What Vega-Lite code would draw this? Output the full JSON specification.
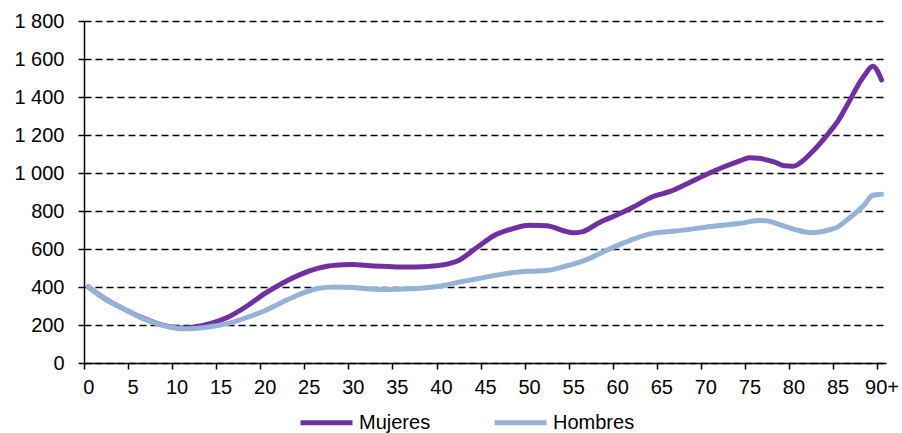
{
  "$schema": "https://vega.github.io/schema/vega-lite/v6.json",
  "width": 802,
  "height": 342,
  "autosize": {"type": "none"},
  "padding": {"left": 84, "top": 21, "right": 16, "bottom": 70},
  "background": "white",
  "config": {
    "font": "Liberation Sans",
    "view": {"stroke": null}
  },
  "data": {
    "values": [
      {"edad": 0, "sexo": "Mujeres", "valor": 400},
      {"edad": 2, "sexo": "Mujeres", "valor": 335},
      {"edad": 4, "sexo": "Mujeres", "valor": 285},
      {"edad": 6, "sexo": "Mujeres", "valor": 240},
      {"edad": 8, "sexo": "Mujeres", "valor": 205},
      {"edad": 10, "sexo": "Mujeres", "valor": 186},
      {"edad": 11, "sexo": "Mujeres", "valor": 184},
      {"edad": 12, "sexo": "Mujeres", "valor": 189},
      {"edad": 14, "sexo": "Mujeres", "valor": 210},
      {"edad": 16, "sexo": "Mujeres", "valor": 245},
      {"edad": 18, "sexo": "Mujeres", "valor": 300},
      {"edad": 20, "sexo": "Mujeres", "valor": 365},
      {"edad": 22, "sexo": "Mujeres", "valor": 420},
      {"edad": 24, "sexo": "Mujeres", "valor": 465},
      {"edad": 26, "sexo": "Mujeres", "valor": 498},
      {"edad": 28, "sexo": "Mujeres", "valor": 515},
      {"edad": 30, "sexo": "Mujeres", "valor": 518},
      {"edad": 32, "sexo": "Mujeres", "valor": 512},
      {"edad": 34, "sexo": "Mujeres", "valor": 508},
      {"edad": 36, "sexo": "Mujeres", "valor": 505},
      {"edad": 38, "sexo": "Mujeres", "valor": 507},
      {"edad": 40, "sexo": "Mujeres", "valor": 515},
      {"edad": 42, "sexo": "Mujeres", "valor": 540},
      {"edad": 44, "sexo": "Mujeres", "valor": 605},
      {"edad": 46, "sexo": "Mujeres", "valor": 670},
      {"edad": 48, "sexo": "Mujeres", "valor": 705},
      {"edad": 50, "sexo": "Mujeres", "valor": 725},
      {"edad": 52, "sexo": "Mujeres", "valor": 722},
      {"edad": 54, "sexo": "Mujeres", "valor": 695},
      {"edad": 55, "sexo": "Mujeres", "valor": 685},
      {"edad": 56, "sexo": "Mujeres", "valor": 690},
      {"edad": 58, "sexo": "Mujeres", "valor": 740},
      {"edad": 60, "sexo": "Mujeres", "valor": 780},
      {"edad": 62, "sexo": "Mujeres", "valor": 825},
      {"edad": 64, "sexo": "Mujeres", "valor": 875},
      {"edad": 66, "sexo": "Mujeres", "valor": 903},
      {"edad": 68, "sexo": "Mujeres", "valor": 945},
      {"edad": 70, "sexo": "Mujeres", "valor": 990},
      {"edad": 72, "sexo": "Mujeres", "valor": 1030},
      {"edad": 74, "sexo": "Mujeres", "valor": 1065},
      {"edad": 75, "sexo": "Mujeres", "valor": 1080},
      {"edad": 76, "sexo": "Mujeres", "valor": 1078},
      {"edad": 78, "sexo": "Mujeres", "valor": 1055},
      {"edad": 79, "sexo": "Mujeres", "valor": 1038},
      {"edad": 80, "sexo": "Mujeres", "valor": 1036},
      {"edad": 81, "sexo": "Mujeres", "valor": 1062},
      {"edad": 82, "sexo": "Mujeres", "valor": 1105},
      {"edad": 84, "sexo": "Mujeres", "valor": 1210},
      {"edad": 85, "sexo": "Mujeres", "valor": 1270},
      {"edad": 86, "sexo": "Mujeres", "valor": 1350},
      {"edad": 88, "sexo": "Mujeres", "valor": 1510},
      {"edad": 89, "sexo": "Mujeres", "valor": 1562},
      {"edad": 90, "sexo": "Mujeres", "valor": 1490},
      {"edad": 0, "sexo": "Hombres", "valor": 400},
      {"edad": 2, "sexo": "Hombres", "valor": 335},
      {"edad": 4, "sexo": "Hombres", "valor": 285},
      {"edad": 6, "sexo": "Hombres", "valor": 238},
      {"edad": 8, "sexo": "Hombres", "valor": 203},
      {"edad": 10, "sexo": "Hombres", "valor": 183},
      {"edad": 11, "sexo": "Hombres", "valor": 180},
      {"edad": 12, "sexo": "Hombres", "valor": 182},
      {"edad": 14, "sexo": "Hombres", "valor": 192},
      {"edad": 16, "sexo": "Hombres", "valor": 210},
      {"edad": 18, "sexo": "Hombres", "valor": 240},
      {"edad": 20, "sexo": "Hombres", "valor": 275},
      {"edad": 22, "sexo": "Hombres", "valor": 320},
      {"edad": 24, "sexo": "Hombres", "valor": 362},
      {"edad": 26, "sexo": "Hombres", "valor": 392},
      {"edad": 28, "sexo": "Hombres", "valor": 400},
      {"edad": 30, "sexo": "Hombres", "valor": 397},
      {"edad": 32, "sexo": "Hombres", "valor": 390},
      {"edad": 34, "sexo": "Hombres", "valor": 387},
      {"edad": 36, "sexo": "Hombres", "valor": 390},
      {"edad": 38, "sexo": "Hombres", "valor": 395},
      {"edad": 40, "sexo": "Hombres", "valor": 405},
      {"edad": 42, "sexo": "Hombres", "valor": 425},
      {"edad": 44, "sexo": "Hombres", "valor": 442},
      {"edad": 46, "sexo": "Hombres", "valor": 460},
      {"edad": 48, "sexo": "Hombres", "valor": 475},
      {"edad": 50, "sexo": "Hombres", "valor": 483},
      {"edad": 52, "sexo": "Hombres", "valor": 487},
      {"edad": 54, "sexo": "Hombres", "valor": 508},
      {"edad": 56, "sexo": "Hombres", "valor": 535},
      {"edad": 58, "sexo": "Hombres", "valor": 575},
      {"edad": 60, "sexo": "Hombres", "valor": 618},
      {"edad": 62, "sexo": "Hombres", "valor": 655},
      {"edad": 64, "sexo": "Hombres", "valor": 682},
      {"edad": 66, "sexo": "Hombres", "valor": 692},
      {"edad": 68, "sexo": "Hombres", "valor": 702},
      {"edad": 70, "sexo": "Hombres", "valor": 715},
      {"edad": 72, "sexo": "Hombres", "valor": 725},
      {"edad": 74, "sexo": "Hombres", "valor": 735},
      {"edad": 76, "sexo": "Hombres", "valor": 750},
      {"edad": 77, "sexo": "Hombres", "valor": 748},
      {"edad": 78, "sexo": "Hombres", "valor": 735},
      {"edad": 80, "sexo": "Hombres", "valor": 705},
      {"edad": 82, "sexo": "Hombres", "valor": 686},
      {"edad": 84, "sexo": "Hombres", "valor": 700},
      {"edad": 85, "sexo": "Hombres", "valor": 715},
      {"edad": 86, "sexo": "Hombres", "valor": 750},
      {"edad": 88, "sexo": "Hombres", "valor": 830},
      {"edad": 89, "sexo": "Hombres", "valor": 883},
      {"edad": 90, "sexo": "Hombres", "valor": 888}
    ]
  },
  "mark": {"type": "line", "interpolate": "monotone", "strokeWidth": 5, "strokeCap": "round", "strokeJoin": "round"},
  "encoding": {
    "x": {
      "field": "edad",
      "type": "quantitative",
      "scale": {"domain": [-0.5, 90.5], "nice": false, "zero": false},
      "axis": {
        "title": null,
        "values": [0, 5, 10, 15, 20, 25, 30, 35, 40, 45, 50, 55, 60, 65, 70, 75, 80, 85, 90],
        "labelExpr": "datum.value == 90 ? '90+' : datum.label",
        "tickOffset": -4.4,
        "labelOffset": 4.4,
        "grid": false,
        "domainColor": "black",
        "domainWidth": 1.5,
        "tickColor": "black",
        "tickWidth": 1.5,
        "tickSize": 6,
        "labelFontSize": 20,
        "labelColor": "black",
        "labelPadding": 8,
        "labelFlush": false
      }
    },
    "y": {
      "field": "valor",
      "type": "quantitative",
      "scale": {"domain": [0, 1800], "nice": false},
      "axis": {
        "title": null,
        "values": [0, 200, 400, 600, 800, 1000, 1200, 1400, 1600, 1800],
        "labelExpr": "replace(format(datum.value, ','), ',', ' ')",
        "grid": true,
        "gridColor": "black",
        "gridDash": [7, 4],
        "gridWidth": 1.6,
        "gridOpacity": 1,
        "domainColor": "black",
        "domainWidth": 1.5,
        "tickColor": "black",
        "tickWidth": 1.5,
        "tickSize": 6,
        "labelFontSize": 20,
        "labelColor": "black",
        "labelPadding": 14
      }
    },
    "color": {
      "field": "sexo",
      "type": "nominal",
      "sort": ["Mujeres", "Hombres"],
      "scale": {"domain": ["Mujeres", "Hombres"], "range": ["#7030A0", "#95B3D7"]},
      "legend": {
        "title": null,
        "orient": "none",
        "legendX": 214,
        "legendY": 373,
        "direction": "horizontal",
        "columns": 2,
        "padding": 0,
        "symbolType": "stroke",
        "symbolSize": 2704,
        "symbolStrokeWidth": 5,
        "labelFontSize": 20,
        "labelColor": "black",
        "labelOffset": 4,
        "columnPadding": 53
      }
    }
  }
}
